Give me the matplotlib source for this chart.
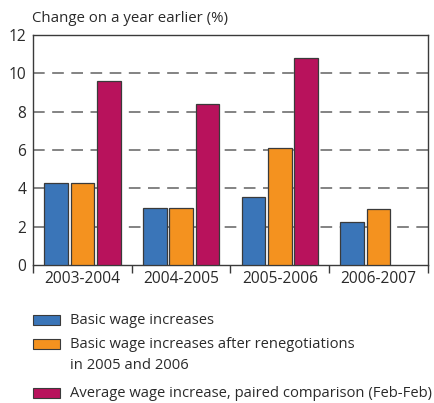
import numpy as np
import matplotlib
matplotlib.use("Agg")
import matplotlib.pyplot as plt
from matplotlib.patches import Rectangle

# Data.
periods = ["2003-2004", "2004-2005", "2005-2006", "2006-2007"]
basic = [4.3, 3.0, 3.55, 2.25]
renegotiated = [4.3, 3.0, 6.1, 2.9]
paired = [9.6, 8.4, 10.8, np.nan]
labels = ["Basic wage increases",
          "Basic wage increases after renegotiations\nin 2005 and 2006",
          "Average wage increase, paired comparison (Feb-Feb)"]
colors = ["#3a75b8", "#f4921f", "#b8125c"]

plt.rcParams["font.family"] = ["Open Sans", "DejaVu Sans"]
edge = "#3a3a3a"
txt = "#2a2a2a"

fig = plt.figure(figsize=(4.35, 4.03), dpi=100)
ax = fig.add_axes([33 / 435, 1 - 265 / 403, 395 / 435, 230 / 403])

x = np.arange(len(periods))
w = 0.24
step = 0.268
for i, series in enumerate([basic, renegotiated, paired]):
    vals = np.array(series, dtype=float)
    ok = np.isfinite(vals)
    ax.bar(x[ok] + (i - 1) * step, vals[ok], width=w, color=colors[i],
           edgecolor=edge, linewidth=0.9, zorder=3)

ax.set_ylim(0, 12)
ax.set_xlim(-0.5, 3.5)
ax.set_yticks(range(0, 13, 2))
for y in range(2, 12, 2):
    ax.axhline(y, color="#6e6e6e", lw=1.2, dashes=(7, 4.5), zorder=1)

ax.set_xticks(np.arange(-0.5, 4, 1))
ax.set_xticklabels([])
ax.set_xticks(x, minor=True)
ax.set_xticklabels(periods, minor=True, fontsize=11.2, color=txt)
ax.tick_params(axis="x", which="major", length=6, width=1, color=edge, direction="out")
ax.tick_params(axis="x", which="minor", length=0, pad=4)
ax.tick_params(axis="y", length=0, labelsize=11.2, labelcolor=txt, pad=5)
for s in ax.spines.values():
    s.set_color(edge)
    s.set_linewidth(1)

fig.text(32 / 435, 1 - 18 / 403, "Change on a year earlier (%)", fontsize=10.8,
         color=txt, va="center", ha="left")

# legend drawn by hand so the patch sits on the first line of text
rows = [320, 344, 393]
for lab, col, yy in zip(labels, colors, rows):
    fig.add_artist(Rectangle((33 / 435, 1 - (yy + 5) / 403), 27 / 435, 10 / 403,
                             transform=fig.transFigure, facecolor=col,
                             edgecolor=edge, linewidth=0.8))
    fig.text(70 / 435, 1 - (yy - 7) / 403, lab, fontsize=10.6, color=txt,
             va="top", ha="left", linespacing=1.55)

fig.savefig("out.png", dpi=100)
